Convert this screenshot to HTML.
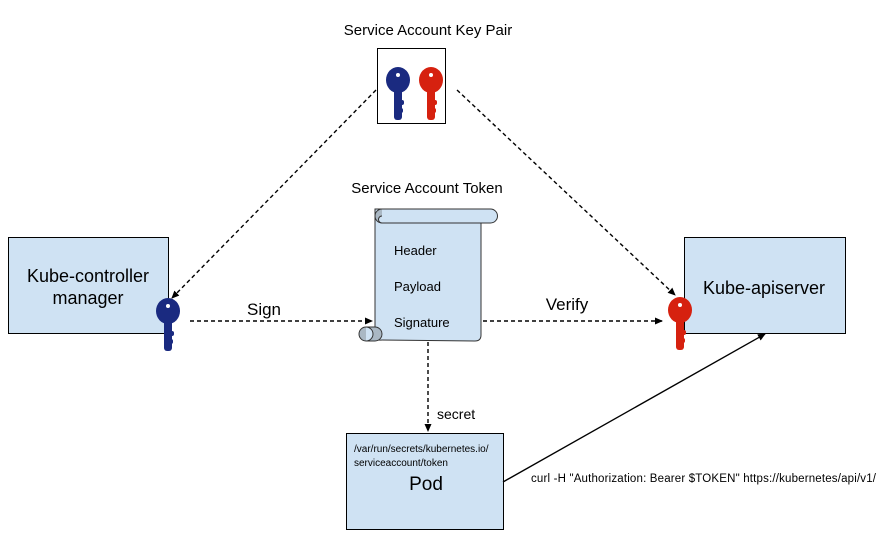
<!DOCTYPE html>
<html><head><meta charset="utf-8"><style>
html,body{margin:0;padding:0;background:#fff;}
svg{display:block;font-family:"Liberation Sans",Arial,sans-serif;}
</style></head><body>
<svg width="886" height="539" viewBox="0 0 886 539" xmlns="http://www.w3.org/2000/svg">
<defs>
<marker id="a" markerWidth="8" markerHeight="8" refX="7" refY="4" orient="auto" markerUnits="userSpaceOnUse">
<path d="M0,0.5 L8,4 L0,7.5 Z" fill="#000"/></marker>
<g id="key">
<ellipse cx="0" cy="0" rx="12" ry="13"/>
<rect x="-4" y="6" width="8" height="34" rx="3"/>
<rect x="-4" y="20" width="10" height="5" rx="2"/>
<rect x="-4" y="28" width="9" height="5" rx="2"/>
</g>
</defs>
<rect width="886" height="539" fill="#fff"/>

<text x="428" y="35" font-size="15" text-anchor="middle">Service Account Key Pair</text>
<text x="427" y="193" font-size="15" text-anchor="middle">Service Account Token</text>

<rect x="377.5" y="48.5" width="68" height="75" fill="#fff" stroke="#000"/>
<use href="#key" x="398" y="80" fill="#1a2a80"/>
<circle cx="398" cy="75" r="2" fill="#fff"/>
<use href="#key" x="431" y="80" fill="#d6210f"/>
<circle cx="431" cy="75" r="2" fill="#fff"/>

<rect x="8.5" y="237.5" width="160" height="96" fill="#cfe2f3" stroke="#000"/>
<text x="88" y="282" font-size="18" text-anchor="middle">Kube-controller</text>
<text x="88" y="304" font-size="18" text-anchor="middle">manager</text>

<rect x="684.5" y="237.5" width="161" height="96" fill="#cfe2f3" stroke="#000"/>
<text x="764" y="294" font-size="18" text-anchor="middle">Kube-apiserver</text>

<rect x="346.5" y="433.5" width="157" height="96" fill="#cfe2f3" stroke="#000"/>
<text x="354" y="452" font-size="10">/var/run/secrets/kubernetes.io/</text>
<text x="354" y="466" font-size="10">serviceaccount/token</text>
<text x="426" y="490" font-size="19" text-anchor="middle">Pod</text>

<g stroke="#000" stroke-width="1.4" fill="none" stroke-dasharray="4,3">
<line x1="376" y1="90" x2="172" y2="298" marker-end="url(#a)"/>
<line x1="457" y1="90" x2="675" y2="295" marker-end="url(#a)"/>
<line x1="190" y1="321" x2="372" y2="321" marker-end="url(#a)"/>
<line x1="483" y1="321" x2="662" y2="321" marker-end="url(#a)"/>
<line x1="428" y1="342" x2="428" y2="431" marker-end="url(#a)"/>
</g>
<line x1="503" y1="482" x2="765" y2="334" stroke="#000" stroke-width="1.4" marker-end="url(#a)"/>

<g stroke="#333" stroke-width="1" fill="#cfe2f3">
<path d="M375,340 L375,209 L481,209 L481,335 Q481,341 475,341 Z"/>
<rect x="375.5" y="209" width="122" height="14" rx="7" fill="#cfe2f3"/>
<path d="M382,209 A7,7 0 1 0 382,223 A3.5,3.5 0 0 1 382,216" fill="#aab8c4"/>
<path d="M375,327 L366,327 A7,7 0 1 0 366,341 L375,341 A7,7 0 0 0 375,327 Z" fill="#aab8c4"/>
<path d="M366,327 A7,7 0 0 1 366,341" fill="#cfe2f3"/>
</g>
<text x="394" y="255" font-size="13">Header</text>
<text x="394" y="291" font-size="13">Payload</text>
<text x="394" y="327" font-size="13">Signature</text>

<use href="#key" x="168" y="311" fill="#1a2a80"/>
<circle cx="168" cy="306" r="2" fill="#fff"/>
<use href="#key" x="680" y="310" fill="#d6210f"/>
<circle cx="680" cy="305" r="2" fill="#fff"/>

<text x="264" y="315" font-size="17" text-anchor="middle">Sign</text>
<text x="567" y="310" font-size="17" text-anchor="middle">Verify</text>
<text x="437" y="419" font-size="14">secret</text>
<text x="531" y="482" font-size="11.5" textLength="345">curl -H "Authorization: Bearer $TOKEN" https://kubernetes/api/v1/</text>
</svg>
</body></html>
